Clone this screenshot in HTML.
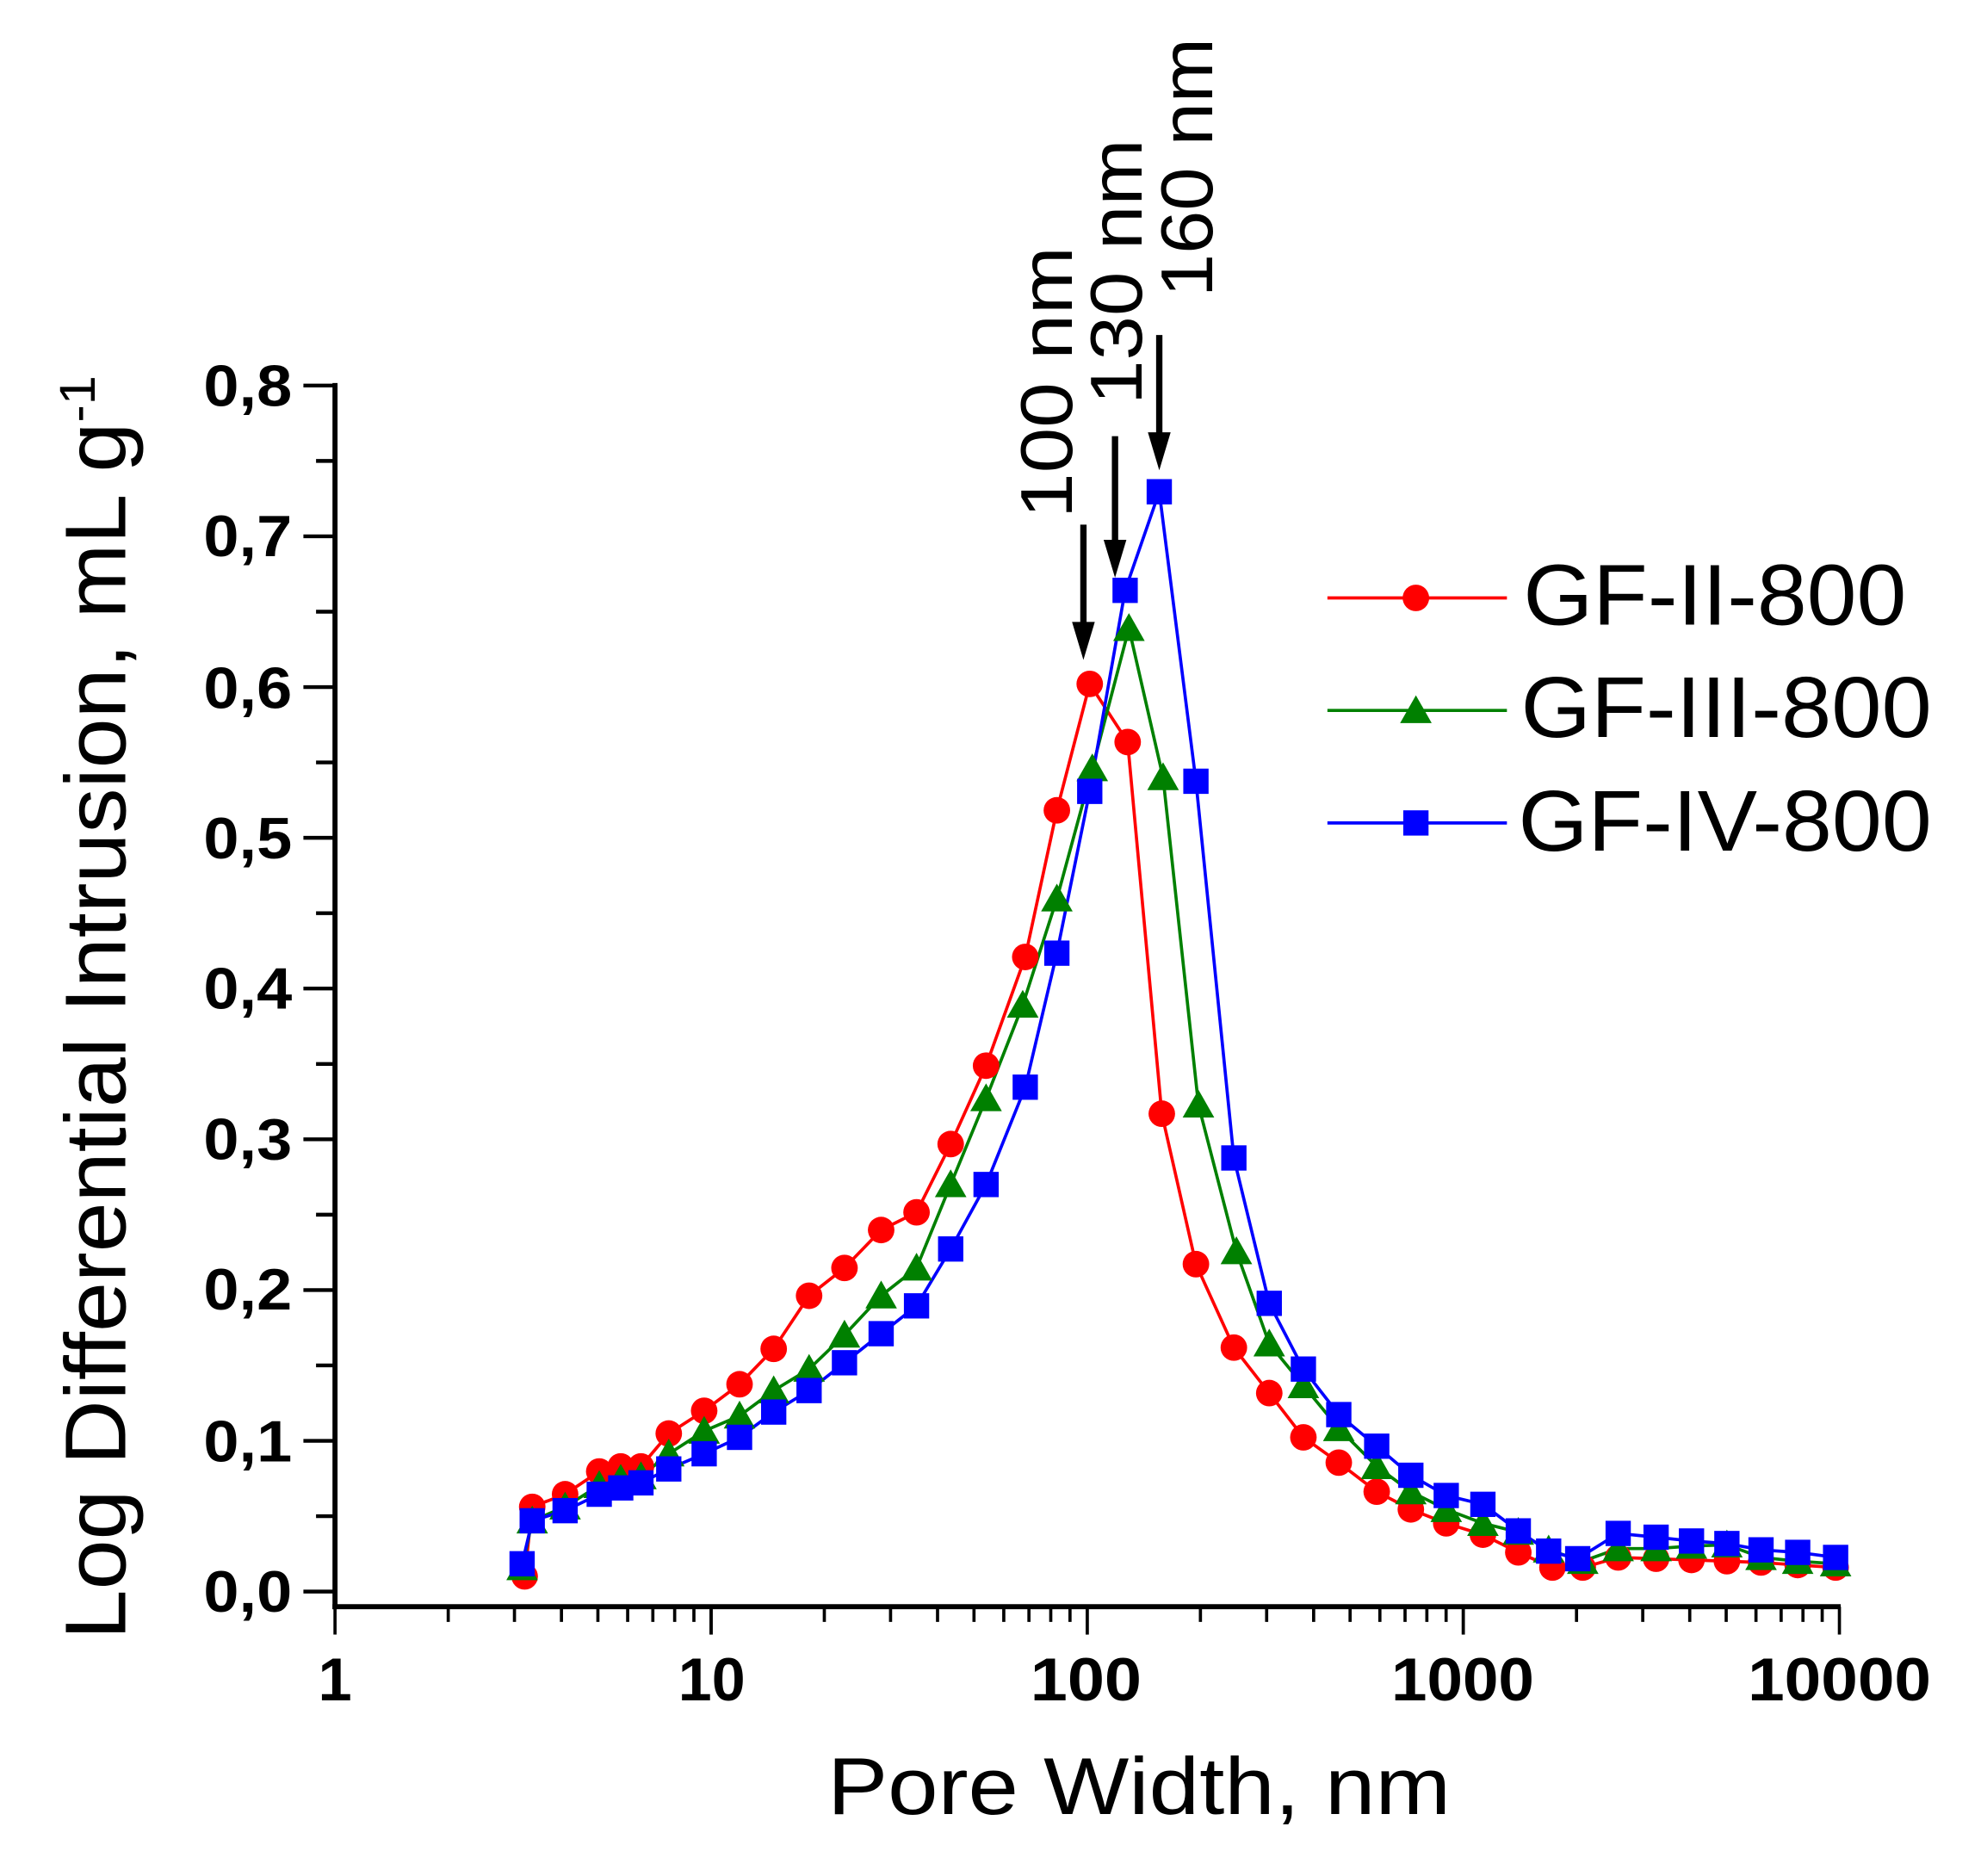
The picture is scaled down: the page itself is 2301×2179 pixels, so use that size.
<!DOCTYPE html>
<html><head><meta charset="utf-8"><style>html,body{margin:0;padding:0;background:#fff}svg{display:block}</style></head>
<body>
<svg id="s" width="2301" height="2179" viewBox="0 0 1567 1484" preserveAspectRatio="none" xmlns="http://www.w3.org/2000/svg" font-family="Liberation Sans, sans-serif">
<rect width="1567" height="1484" fill="#fff"/>
<g id="axes" stroke="#000"></g>
<g fill="#000" font-weight="bold" font-size="46" text-anchor="end">
<text x="231" y="1275" textLength="70" lengthAdjust="spacingAndGlyphs">0,0</text>
<text x="231" y="1156" textLength="70" lengthAdjust="spacingAndGlyphs">0,1</text>
<text x="231" y="1036" textLength="70" lengthAdjust="spacingAndGlyphs">0,2</text>
<text x="231" y="917" textLength="70" lengthAdjust="spacingAndGlyphs">0,3</text>
<text x="231" y="798" textLength="70" lengthAdjust="spacingAndGlyphs">0,4</text>
<text x="231" y="679" textLength="70" lengthAdjust="spacingAndGlyphs">0,5</text>
<text x="231" y="560" textLength="70" lengthAdjust="spacingAndGlyphs">0,6</text>
<text x="231" y="440" textLength="70" lengthAdjust="spacingAndGlyphs">0,7</text>
<text x="231" y="321" textLength="70" lengthAdjust="spacingAndGlyphs">0,8</text>
</g>
<g fill="#000" font-weight="bold" font-size="48" text-anchor="middle">
<text x="265" y="1345">1</text>
<text x="563" y="1345" textLength="53" lengthAdjust="spacingAndGlyphs">10</text>
<text x="859" y="1345" textLength="88" lengthAdjust="spacingAndGlyphs">100</text>
<text x="1157" y="1345" textLength="113" lengthAdjust="spacingAndGlyphs">1000</text>
<text x="1455" y="1345" textLength="145" lengthAdjust="spacingAndGlyphs">10000</text>
</g>
<text x="901" y="1435" font-size="64" text-anchor="middle" fill="#000" textLength="493" lengthAdjust="spacingAndGlyphs">Pore Width, nm</text>
<text transform="translate(99,797) rotate(-90)" font-size="68" text-anchor="middle" fill="#000" textLength="1000" lengthAdjust="spacingAndGlyphs">Log Differential Intrusion, mL g<tspan dy="-24" font-size="40">-1</tspan></text>
<g font-size="58" fill="#000">
<text transform="translate(848,410) rotate(-90)" textLength="215" lengthAdjust="spacingAndGlyphs">100 nm</text>
<text transform="translate(903,320) rotate(-90)" textLength="210" lengthAdjust="spacingAndGlyphs">130 nm</text>
<text transform="translate(959,235) rotate(-90)" textLength="205" lengthAdjust="spacingAndGlyphs">160 nm</text>
</g>
<g id="arrows"></g>
<g id="data"></g>
<g font-size="68" fill="#000">
<text x="1205" y="494" textLength="303" lengthAdjust="spacingAndGlyphs">GF-II-800</text>
<text x="1203" y="583" textLength="325" lengthAdjust="spacingAndGlyphs">GF-III-800</text>
<text x="1201" y="673" textLength="327" lengthAdjust="spacingAndGlyphs">GF-IV-800</text>
</g>
</svg>
<script>
var NS="http://www.w3.org/2000/svg";
function el(p,t,a){var e=document.createElementNS(NS,t);for(var k in a)e.setAttribute(k,a[k]);p.appendChild(e);return e;}
var ax=document.getElementById('axes');
el(ax,'line',{x1:265,y1:303,x2:265,y2:1273,'stroke-width':4});
el(ax,'line',{x1:263,y1:1271,x2:1456,y2:1271,'stroke-width':4});
for(var i=0;i<=16;i++){var y=1259-i*59.625;el(ax,'line',{x1:i%2?250:240,y1:y,x2:265,y2:y,'stroke-width':3});}
for(var d=0;d<4;d++){for(var m=1;m<=10;m++){var x=265+(d+Math.log10(m))*297.5;el(ax,'line',{x1:x,y1:1271,x2:x,y2:(m==1||m==10)?1293:1283,'stroke-width':2.5});}}
var ar=document.getElementById('arrows');
[[857,415,522],[882,345,457],[917,265,372]].forEach(function(a){
el(ar,'line',{x1:a[0],y1:a[1],x2:a[0],y2:a[2]-25,stroke:'#000','stroke-width':5});
el(ar,'polygon',{points:(a[0]-9)+','+(a[2]-30)+' '+(a[0]+9)+','+(a[2]-30)+' '+a[0]+','+a[2],fill:'#000'});});
var R=[[415,1247],[421,1192],[447,1182],[474,1164],[491,1160],[507,1160],[529,1134],[557,1116],[585,1095],[612,1067],[640,1025],[668,1003],[697,973],[725,959],[752,905],[780,843],[811,757],[836,641],[862,541],[892,587],[919,881],[946,1000],[976,1066],[1004,1102],[1031,1137],[1059,1157],[1089,1180],[1116,1194],[1144,1205],[1173,1214],[1201,1228],[1228,1240],[1252,1240],[1280,1232],[1310,1233],[1338,1234],[1366,1235],[1393,1236],[1422,1238],[1452,1240]];
var G=[[413,1240],[421,1203],[447,1192],[474,1175],[491,1170],[507,1168],[529,1150],[557,1132],[585,1120],[612,1100],[640,1083],[668,1056],[697,1025],[725,1003],[752,937],[780,869],[809,795],[836,711],[864,608],[893,497],[920,615],[948,874],[978,990],[1004,1063],[1031,1096],[1059,1130],[1089,1160],[1116,1180],[1144,1194],[1173,1205],[1201,1212],[1225,1226],[1252,1235],[1280,1225],[1310,1225],[1338,1223],[1366,1222],[1393,1232],[1422,1235],[1452,1237]];
var B=[[413,1237],[421,1203],[447,1195],[474,1182],[491,1177],[507,1173],[529,1162],[557,1150],[585,1137],[612,1117],[640,1100],[668,1078],[697,1055],[725,1033],[752,988],[780,937],[811,860],[836,754],[862,626],[890,467],[917,389],[946,618],[976,916],[1004,1031],[1031,1083],[1059,1119],[1089,1144],[1116,1167],[1144,1183],[1173,1190],[1201,1211],[1225,1227],[1248,1233],[1280,1213],[1310,1216],[1338,1219],[1366,1221],[1393,1226],[1422,1228],[1452,1232]];
var dg=document.getElementById('data');
function mk(x,y,t,c){if(t=='c')el(dg,'circle',{cx:x,cy:y,r:10.5,fill:c});else if(t=='s')el(dg,'rect',{x:x-10,y:y-10,width:20,height:20,fill:c});else el(dg,'polygon',{points:(x-12.5)+','+(y+10)+' '+(x+12.5)+','+(y+10)+' '+x+','+(y-12),fill:c});}
function series(P,t,c){el(dg,'polyline',{points:P.map(function(p){return p.join(',')}).join(' '),fill:'none',stroke:c,'stroke-width':2.5});}
series(R,'c','#ff0000');series(G,'t','#008000');series(B,'s','#0000ff');
R.forEach(function(p){mk(p[0],p[1],'c','#ff0000')});
G.forEach(function(p){mk(p[0],p[1],'t','#008000')});
B.forEach(function(p){mk(p[0],p[1],'s','#0000ff')});
[[473,'#ff0000','c'],[562,'#008000','t'],[651,'#0000ff','s']].forEach(function(l){
el(dg,'line',{x1:1050,y1:l[0],x2:1192,y2:l[0],stroke:l[1],'stroke-width':2.5});mk(1120,l[0],l[2],l[1]);});
</script>
</body></html>
